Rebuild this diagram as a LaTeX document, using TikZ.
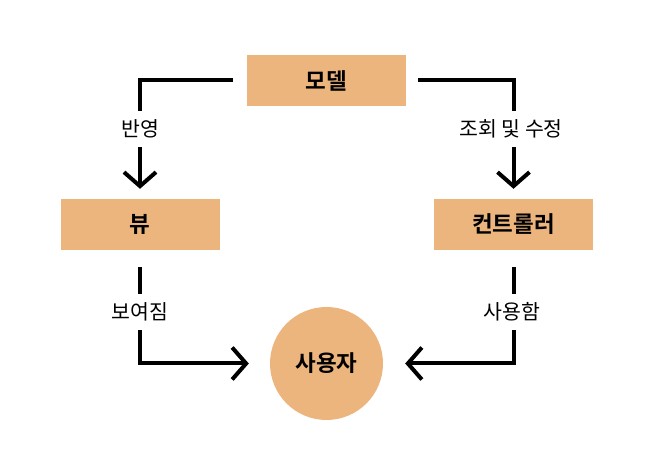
\documentclass[tikz,border=0pt]{standalone}
\usepackage{fontspec}
\usetikzlibrary{arrows.meta}
\newfontfamily\krfont{Noto Sans CJK KR}
\newfontfamily\krbold{Noto Sans CJK KR Bold}
\definecolor{boxfill}{HTML}{EDB57E}
\tikzset{
  box/.style={rectangle, fill=boxfill, minimum width=159pt, minimum height=51pt, inner sep=0pt, font=\krbold\fontsize{22.5}{26}\selectfont},
  usernode/.style={circle, fill=boxfill, minimum size=113pt, inner sep=0pt, font=\krbold\fontsize{22.5}{26}\selectfont},
  conn/.style={line width=4pt, -{Straight Barb[length=14pt,width=32pt]}},
  lbl/.style={fill=white, inner sep=0pt, minimum height=36pt, font=\krfont\fontsize{20.5}{24}\selectfont}
}
\begin{document}
\begin{tikzpicture}[x=1pt,y=-1pt]
\useasboundingbox (0,0) rectangle (654,454);
\node[box] (model) at (326.5,80.5) {모델};
\node[box] (view) at (140,224.5) {뷰};
\node[box] (ctrl) at (513.5,224.5) {컨트롤러};
\node[usernode] (user) at (326.5,363.5) {사용자};
\draw[conn, shorten >=10pt] ([xshift=-14pt]model.west) -| (view.north);
\draw[conn, shorten >=10pt] ([xshift=12pt]model.east) -| (ctrl.north);
\draw[conn] ([yshift=-17pt]view.south) |- ([xshift=-21pt]user.west);
\draw[conn] ([yshift=-17pt]ctrl.south) |- ([xshift=22pt]user.east);
\node[lbl] (l1) at (140,129) {반영};
\node[lbl] (l2) at (511,129) {조회 및 수정};
\node[lbl] (l3) at (140,312) {보여짐};
\node[lbl] (l4) at (512,312) {사용함};
\end{tikzpicture}
\end{document}
